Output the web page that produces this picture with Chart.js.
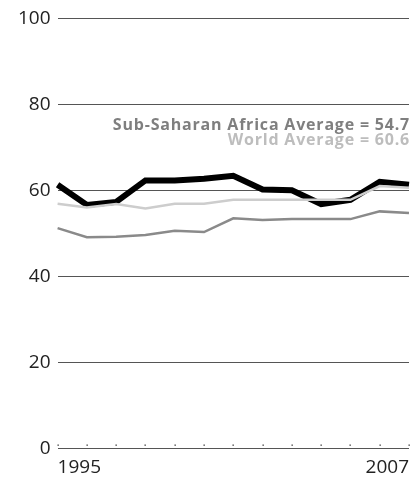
<!DOCTYPE html>
<html>
<head>
<meta charset="utf-8">
<script src="https://cdn.jsdelivr.net/npm/chart.js@4.4.0/dist/chart.umd.min.js"></script>
<style>
  html, body { margin: 0; padding: 0; background: #fff; }
  #wrap { width: 416px; height: 478px; }
</style>
</head>
<body>
<div id="wrap"><canvas id="myChart"></canvas></div>
<script>
// school enrolment-ish index, 1995-2007
const years = ["1995", "1996", "1997", "1998", "1999", "2000", "2001",
  "2002", "2003", "2004", "2005", "2006", "2007"];

const country = [61.3, 56.6, 57.3, 62.3, 62.3, 62.7, 63.4, 60.2, 60.0, 56.8, 57.8, 62.0, 61.3];
const world = [56.9, 56.0, 56.8, 55.8, 56.9, 56.9, 57.8, 57.8, 57.8, 57.8, 57.8, 61.0, 60.6];
const ssa = [51.2, 49.1, 49.2, 49.6, 50.6, 50.3, 53.5, 53.1, 53.3, 53.3, 53.3, 55.1, 54.7];

const yTicks = [0, 20, 40, 60, 80, 100];

const notes = [
  { text: "Sub-Saharan Africa Average = 54.7", color: "#7f7f7f", at: 75.2 },
  { text: "World Average = 60.6", color: "#bdbdbd", at: 71.6 },
];

// little dots above the baseline at each year
const tickDots = {
  id: "tickDots",
  afterDraw(chart) {
    const { ctx, scales } = chart;
    const y0 = scales.y.getPixelForValue(0) - 3;
    ctx.save();
    ctx.fillStyle = "#333";
    years.forEach((_, i) => {
      const x = scales.x.getPixelForValue(i);
      ctx.fillRect(Math.round(x) - 0.5, Math.round(y0) - 0.5, 1.3, 1.3);
    });
    ctx.restore();
  },
};

const labels = {
  id: "labels",
  afterDatasetsDraw(chart) {
    const { ctx, chartArea, scales } = chart;
    ctx.save();
    ctx.font = "bold 16px 'Open Sans', sans-serif";
    ctx.letterSpacing = "0.8px";
    ctx.textAlign = "right";
    ctx.textBaseline = "middle";
    for (const n of notes) {
      ctx.fillStyle = n.color;
      ctx.fillText(n.text, chartArea.right + 1, scales.y.getPixelForValue(n.at));
    }
    ctx.restore();
  },
};

new Chart(document.getElementById("myChart"), {
  type: "line",
  data: {
    labels: years,
    datasets: [
      {
        label: "Sub-Saharan Africa",
        data: ssa,
        borderColor: "#8a8a8a",
        borderWidth: 2.5,
        pointRadius: 0,
        tension: 0,
      },
      {
        label: "World",
        data: world,
        borderColor: "#cdcdcd",
        borderWidth: 2.5,
        pointRadius: 0,
        tension: 0,
      },
      {
        label: "Country",
        data: country,
        borderColor: "#000",
        borderWidth: 6,
        pointRadius: 0,
        tension: 0,
        borderJoinStyle: "miter",
      },
    ],
  },
  options: {
    responsive: true,
    maintainAspectRatio: false,
    animation: false,
    layout: { padding: { top: 8, right: 7, left: 11, bottom: -1 } },
    plugins: {
      legend: { display: false },
      tooltip: { enabled: false },
    },
    scales: {
      x: {
        offset: false,
        grid: { display: false },
        border: { display: false },
        ticks: {
          autoSkip: false,
          maxRotation: 0,
          align: "inner",
          padding: 0,
          color: "#222",
          font: { family: "'Open Sans', sans-serif", size: 19 },
          callback: (v, i) => (i === 0 || i === years.length - 1 ? years[i] : ""),
        },
      },
      y: {
        min: 0,
        max: 100,
        afterBuildTicks: (axis) => {
          axis.ticks = yTicks.map((v) => ({ value: v }));
        },
        grid: { color: "#555", lineWidth: 1, drawTicks: false },
        border: { display: false },
        ticks: {
          padding: 7,
          color: "#222",
          font: { family: "'Open Sans', sans-serif", size: 19 },
        },
      },
    },
  },
  plugins: [tickDots, labels],
});
</script>
</body>
</html>
